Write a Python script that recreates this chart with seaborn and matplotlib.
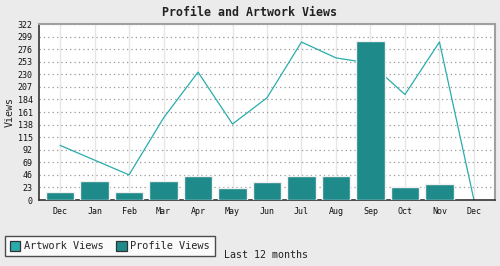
import numpy as np
import pandas as pd
import matplotlib
matplotlib.use("Agg")
import matplotlib.pyplot as plt
import seaborn as sns
from matplotlib.patches import Patch

months = ["Dec", "Jan", "Feb", "Mar", "Apr", "May", "Jun", "Jul", "Aug", "Sep", "Oct", "Nov", "Dec"]
artwork_views = [100, 73, 46, 150, 234, 139, 187, 289, 260, 250, 193, 289, 0]
profile_views = [15, 35, 15, 35, 43, 22, 33, 43, 44, 291, 24, 30, 0]
y_ticks = [0, 23, 46, 69, 92, 115, 138, 161, 184, 207, 230, 253, 276, 299, 322]

sns.set_theme(style="white")
plt.rcParams["font.family"] = ["DejaVu Sans Mono"]

df = pd.DataFrame({"idx": np.arange(len(months)), "month": months,
                   "artwork": artwork_views, "profile": profile_views})

bar_color = "#1e8a8a"
line_color = "#2aacac"

fig = plt.figure(figsize=(5, 2.66), dpi=100, facecolor="#ebebeb")
ax = fig.add_axes([39/500, 1 - 200/266, (495-39)/500, (200-24)/266])
ax.set_facecolor("white")

sns.lineplot(data=df, x="idx", y="artwork", ax=ax, color=line_color, linewidth=0.9, zorder=2)
sns.barplot(data=df, x="idx", y="profile", ax=ax, color=bar_color, saturation=1,
            width=0.82, edgecolor="#f0f0f0", linewidth=1.0, zorder=3)
for p in ax.patches:
    if p.get_height() == 0:
        p.set_linewidth(0)

ax.set_xlim(-0.61, len(months) - 1 + 0.61)
ax.set_ylim(0, 322)
ax.set_yticks(y_ticks)
ax.set_yticklabels([str(v) for v in y_ticks], fontsize=6)
ax.set_xticks(np.arange(len(months)))
ax.set_xticklabels(months, fontsize=6)

ax.grid(axis="y", linestyle=(0, (1, 2.5)), color="#999999", linewidth=0.9, zorder=0)
ax.grid(axis="x", linestyle="-", color="#e6e6e6", linewidth=1.0, zorder=0)
ax.set_axisbelow(True)

for s in ["left", "bottom"]:
    ax.spines[s].set_color("#333333")
    ax.spines[s].set_linewidth(1.2)
for s in ["top", "right"]:
    ax.spines[s].set_color("#a0a0a0")
    ax.spines[s].set_linewidth(1.5)

ax.tick_params(axis="both", which="both", direction="out", length=3, width=0.9,
               color="#333333", labelcolor="#111111", pad=1.5)
ax.tick_params(axis="x", pad=2)

ax.set_ylabel("Views", fontsize=7.2, labelpad=2, color="#222222")
ax.set_xlabel("")
fig.text(266/500, 1 - 255/266, "Last 12 months", ha="center", va="center", fontsize=7.2, color="#222222")
fig.text(250/500, 1 - 12/266, "Profile and Artwork Views", ha="center", va="center",
         fontsize=8.4, fontweight="bold", color="#222222")

handles = [Patch(facecolor=line_color, edgecolor="#333333", linewidth=0.9, label="Artwork Views"),
           Patch(facecolor=bar_color, edgecolor="#333333", linewidth=0.9, label="Profile Views")]
leg = fig.legend(handles=handles, loc="lower left", bbox_to_anchor=(5/500, 1 - 256/266),
                 ncol=2, fontsize=7.4, frameon=True, fancybox=False, handlelength=1.0,
                 handleheight=1.1, handletextpad=0.35, columnspacing=1.3, borderpad=0.45,
                 borderaxespad=0)
leg.get_frame().set_edgecolor("#222222")
leg.get_frame().set_linewidth(1.0)
leg.get_frame().set_facecolor("white")

fig.savefig("out.png", dpi=100, facecolor=fig.get_facecolor())
